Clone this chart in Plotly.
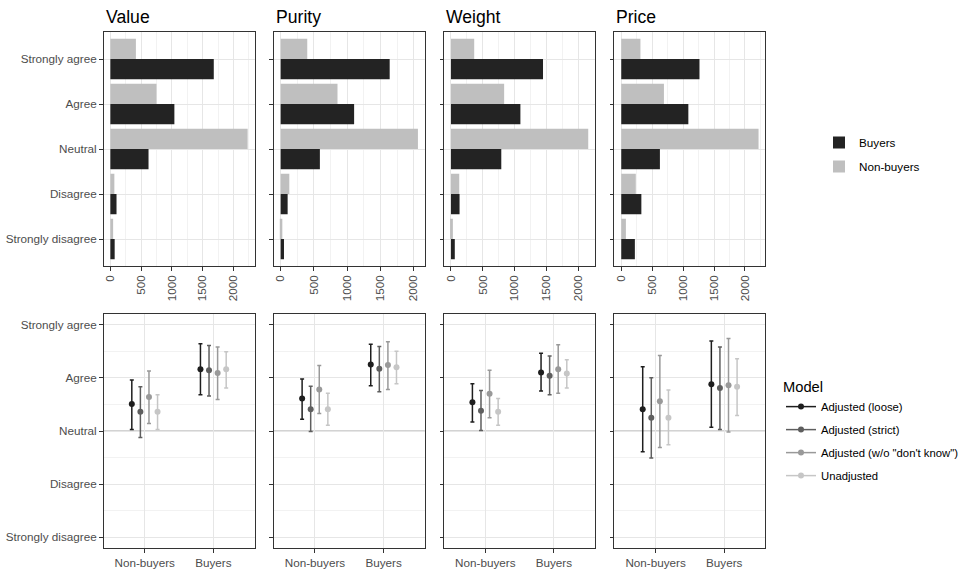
import plotly.graph_objects as go

# ---------------- data ----------------
categories = ["Strongly agree", "Agree", "Neutral", "Disagree", "Strongly disagree"]
attributes = ["Value", "Purity", "Weight", "Price"]
groups = ["Non-buyers", "Buyers"]
models = ["Adjusted (loose)", "Adjusted (strict)", 'Adjusted (w/o "don\'t know")', "Unadjusted"]

# counts per category (order as in `categories`)
value_buyers = [1680, 1040, 620, 100, 70]
value_nonbuyers = [415, 750, 2230, 65, 45]
purity_buyers = [1640, 1105, 590, 105, 50]
purity_nonbuyers = [400, 855, 2065, 130, 25]
weight_buyers = [1445, 1090, 790, 135, 60]
weight_nonbuyers = [365, 835, 2155, 130, 30]
price_buyers = [1265, 1085, 625, 325, 220]
price_nonbuyers = [310, 690, 2220, 235, 75]

# model estimates: [non-buyers per model, buyers per model]; scale 1..5
value_mean = [[3.51, 3.36, 3.64, 3.36], [4.16, 4.14, 4.09, 4.16]]
value_lo = [[3.03, 2.88, 3.14, 3.03], [3.68, 3.66, 3.59, 3.81]]
value_hi = [[3.96, 3.83, 4.13, 3.68], [4.64, 4.61, 4.58, 4.49]]
purity_mean = [[3.61, 3.41, 3.78, 3.41], [4.25, 4.17, 4.24, 4.20]]
purity_lo = [[3.22, 2.99, 3.33, 3.11], [3.85, 3.74, 3.78, 3.89]]
purity_hi = [[3.98, 3.84, 4.23, 3.71], [4.63, 4.59, 4.68, 4.50]]
weight_mean = [[3.54, 3.38, 3.70, 3.36], [4.10, 4.04, 4.16, 4.08]]
weight_lo = [[3.17, 3.01, 3.25, 3.11], [3.75, 3.68, 3.71, 3.81]]
weight_hi = [[3.89, 3.76, 4.14, 3.61], [4.46, 4.41, 4.62, 4.34]]
price_mean = [[3.41, 3.25, 3.56, 3.25], [3.88, 3.81, 3.86, 3.83]]
price_lo = [[2.61, 2.49, 2.69, 2.74], [3.07, 3.03, 2.98, 3.29]]
price_hi = [[4.21, 4.00, 4.42, 3.77], [4.69, 4.58, 4.74, 4.36]]

scale_labels = ["Strongly disagree", "Disagree", "Neutral", "Agree", "Strongly agree"]
scale_values = [1, 2, 3, 4, 5]

# ---------------- styling ----------------
W, H = 968, 570
FONT = "Liberation Sans, Arial, sans-serif"
TICKC = "#4d4d4d"
BORDER = "#333333"
GRID = "#e6e6e6"
MINOR = "#f2f2f2"
bar_colors = {"Buyers": "#232323", "Non-buyers": "#bfbfbf"}
model_colors = ["#1e1e1e", "#5e5e5e", "#999999", "#c6c6c6"]

panel_left = [103.5 + 170.3 * i for i in range(4)]
panel_w = 151
top_y = (32, 266)
bot_y = (314, 548)

bars = {
    "Value": (value_buyers, value_nonbuyers),
    "Purity": (purity_buyers, purity_nonbuyers),
    "Weight": (weight_buyers, weight_nonbuyers),
    "Price": (price_buyers, price_nonbuyers),
}
ests = {
    "Value": (value_mean, value_lo, value_hi),
    "Purity": (purity_mean, purity_lo, purity_hi),
    "Weight": (weight_mean, weight_lo, weight_hi),
    "Price": (price_mean, price_lo, price_hi),
}

fig = go.Figure()
layout = {}


def xd(i):
    return [panel_left[i] / W, (panel_left[i] + panel_w) / W]


def yd(rng):
    return [1 - rng[1] / H, 1 - rng[0] / H]


common_axis = dict(
    showline=True, mirror=True, linecolor=BORDER, linewidth=1,
    ticks="outside", ticklen=3.5, tickwidth=1, tickcolor=BORDER,
    tickfont=dict(family=FONT, size=11.7, color=TICKC),
    gridcolor=GRID, gridwidth=1, zeroline=False,
)

dodge = 0.5
for i, attr in enumerate(attributes):
    # ----- top bar panel -----
    ax = 1 + i
    buyers, nonbuyers = bars[attr]
    for name, vals in (("Buyers", buyers), ("Non-buyers", nonbuyers)):
        fig.add_trace(go.Bar(
            x=vals, y=categories, orientation="h", name=name,
            marker=dict(color=bar_colors[name], line=dict(width=0)),
            xaxis=f"x{ax}", yaxis=f"y{ax}", showlegend=(i == 0),
            legendgroup=name, legend="legend",
        ))
    m = max(max(buyers), max(nonbuyers))
    layout[f"xaxis{ax}"] = dict(
        common_axis, domain=xd(i), anchor=f"y{ax}",
        range=[-0.05 * m, 1.05 * m], tick0=0, dtick=500, tickangle=-90,
        minor=dict(tick0=0, dtick=250, showgrid=True, gridcolor=MINOR, gridwidth=0.6, ticks=""),
    )
    layout[f"yaxis{ax}"] = dict(
        common_axis, domain=yd(top_y), anchor=f"x{ax}",
        type="category", categoryorder="array", categoryarray=categories[::-1],
        range=[-0.6, 4.6], showticklabels=(i == 0),
    )

    # ----- bottom estimate panel -----
    bx = 5 + i
    mean, lo, hi = ests[attr]
    for mi, model in enumerate(models):
        off = (mi - (len(models) - 1) / 2) * dodge / len(models)
        xs, ys, ep, em = [], [], [], []
        for gi in range(len(groups)):
            if gi > 0:
                xs.append(None); ys.append(None); ep.append(None); em.append(None)
            xs.append(gi + off)
            ys.append(mean[gi][mi])
            ep.append(hi[gi][mi] - mean[gi][mi])
            em.append(mean[gi][mi] - lo[gi][mi])
        fig.add_trace(go.Scatter(
            x=xs, y=ys, mode="lines+markers", name=model,
            line=dict(color=model_colors[mi], width=1.5),
            marker=dict(color=model_colors[mi], size=6),
            error_y=dict(type="data", symmetric=False, array=ep, arrayminus=em,
                         color=model_colors[mi], thickness=1.5, width=2),
            connectgaps=False,
            xaxis=f"x{bx}", yaxis=f"y{bx}", showlegend=(i == 0),
            legendgroup=model, legend="legend2",
        ))
    layout[f"xaxis{bx}"] = dict(
        common_axis, domain=xd(i), anchor=f"y{bx}",
        range=[-0.6, 1.6], tickmode="array", tickvals=list(range(len(groups))),
        ticktext=groups,
    )
    layout[f"yaxis{bx}"] = dict(
        common_axis, domain=yd(bot_y), anchor=f"x{bx}",
        range=[0.8, 5.2], tickmode="array", tickvals=scale_values, ticktext=scale_labels,
        showticklabels=(i == 0),
        minor=dict(tickmode="array", tickvals=[1.5, 2.5, 3.5, 4.5], showgrid=True,
                   gridcolor=MINOR, gridwidth=0.6, ticks=""),
    )
    fig.add_shape(type="line", xref=f"x{bx} domain", yref=f"y{bx}",
                  x0=0, x1=1, y0=3, y1=3, line=dict(color="#a6a6a6", width=1),
                  layer="below")
    fig.add_annotation(text=attr, xref="paper", yref="paper",
                       x=panel_left[i] / W, y=1 - 17 / H, xanchor="left", yanchor="middle",
                       showarrow=False, font=dict(family=FONT, size=17.6, color="black"))

fig.update_layout(
    **layout,
    width=W, height=H,
    margin=dict(l=0, r=0, t=0, b=0),
    paper_bgcolor="white", plot_bgcolor="white",
    barmode="group", bargap=0.1, bargroupgap=0,
    font=dict(family=FONT, size=11.7, color="black"),
    legend=dict(x=819 / W, y=1 - 128 / H, xanchor="left", yanchor="top",
                font=dict(family=FONT, size=11.7, color="black"),
                tracegroupgap=5, bgcolor="rgba(0,0,0,0)"),
    legend2=dict(x=781 / W, y=1 - 373 / H, xanchor="left", yanchor="top",
                 title=dict(text="Model", font=dict(family=FONT, size=14.7, color="black")),
                 font=dict(family=FONT, size=11.3, color="black"),
                 tracegroupgap=4, bgcolor="rgba(0,0,0,0)"),
)

fig.write_html(
    "out.html",
    config={"displayModeBar": False},
    post_script="document.body.style.margin='0';document.body.style.padding='0';document.body.style.overflow='hidden';",
)
